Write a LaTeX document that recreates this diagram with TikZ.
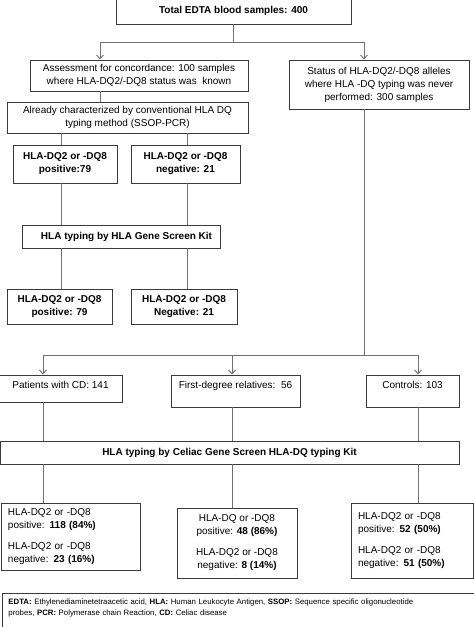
\documentclass[tikz,border=0pt]{standalone}
\usepackage{fontspec}
\setmainfont{Liberation Sans}
\usetikzlibrary{arrows.meta}
\definecolor{boxc}{HTML}{3A3A3A}
\definecolor{linec}{HTML}{707070}
\begin{document}
\begin{tikzpicture}[x=1pt,y=-1pt,
  box/.style={draw=boxc, line width=0.9pt, inner sep=0pt, align=center,
    font=\fontsize{10}{13}\selectfont, text=black},
  bbox/.style={box, font=\fontsize{10}{13}\selectfont\bfseries},
  conn/.style={draw=linec, line width=0.9pt},
  arr/.style={conn, -{Straight Barb[length=4pt,width=7pt]}}]
\useasboundingbox (0,0) rectangle (474,627);

% top part
\node[bbox, minimum width=235, minimum height=27] (top) at (233.5,10.5) {Total EDTA blood samples: 400};
\node[box, minimum width=218, minimum height=31] (assess) at (139,75.5)
  {Assessment for concordance: 100 samples\\ where HLA-DQ2/-DQ8 status was\ \ known};
\node[box, minimum width=180, minimum height=49] (status) at (379,84.5)
  {Status of HLA-DQ2/-DQ8 alleles\\ where HLA -DQ typing was never\\ performed: 300 samples};
\node[box, minimum width=241, minimum height=31] (already) at (127.5,117.5)
  {Already characterized by conventional HLA DQ\\ typing method (SSOP-PCR)};
\node[bbox, minimum width=104, minimum height=38] (pos1) at (65,164)
  {HLA-DQ2 or -DQ8\\ positive:79};
\node[bbox, minimum width=109, minimum height=38] (neg1) at (185.5,164)
  {HLA-DQ2 or -DQ8\\ negative: 21};
\node[bbox, minimum width=198, minimum height=23] (gene) at (121,236.5)
  {\hspace*{11pt}HLA typing by HLA Gene Screen Kit};
\node[bbox, minimum width=105, minimum height=35] (pos2) at (59.5,306.5)
  {HLA-DQ2 or -DQ8\\ positive: 79};
\node[bbox, minimum width=106, minimum height=35] (neg2) at (184,306.5)
  {HLA-DQ2 or -DQ8\\ Negative: 21};

% lower part
\node[box, minimum width=123, minimum height=27, text height=7.2pt, text depth=7pt] (patients) at (60.5,388.5)
  {Patients with CD: 141};
\node[box, minimum width=129, minimum height=32, text height=7.2pt, text depth=12pt] (fdr) at (235.5,391)
  {First-degree relatives:\ \ 56};
\node[box, minimum width=93, minimum height=32, text height=7.2pt, text depth=12pt] (controls) at (412.5,391)
  {Controls: 103};
\node[bbox, minimum width=459, minimum height=23] (celiac) at (229.5,452.5)
  {HLA typing by Celiac Gene Screen HLA-DQ typing Kit};
\node[box, minimum width=139, minimum height=67, inner xsep=7pt, text width=125pt, align=left] (res1) at (70.5,536.5)
  {HLA-DQ2 or -DQ8\\ positive: \textbf{118 (84\%)}\\[8pt] HLA-DQ2 or -DQ8\\ negative: \textbf{23 (16\%)}};
\node[box, minimum width=120, minimum height=70] (res2) at (237,543)
  {HLA-DQ or -DQ8\\ positive: \textbf{48 (86\%)}\\[8pt] HLA-DQ2 or -DQ8\\ negative: \textbf{8 (14\%)}};
\node[box, minimum width=122, minimum height=75, inner xsep=7pt, text width=108pt, align=left] (res3) at (412,540.5)
  {HLA-DQ2 or -DQ8\\ positive: \textbf{52 (50\%)}\\[8pt] HLA-DQ2 or -DQ8\\ negative: \textbf{51 (50\%)}};
\node[box, anchor=north west, inner xsep=6pt, inner ysep=5pt, text width=464pt, align=left,
  font=\fontsize{7.8}{11}\selectfont, text height=6pt, text depth=22pt] (foot) at (2,593)
  {\textbf{EDTA:} Ethylenediaminetetraacetic acid, \textbf{HLA:} Human Leukocyte Antigen, \textbf{SSOP:} Sequence specific oligonucleotide\\ probes, \textbf{PCR:} Polymerase chain Reaction, \textbf{CD:} Celiac disease};

% column coordinates
\coordinate (c43) at (43,0);
\coordinate (c61) at (61,0);
\coordinate (c100) at (100,0);
\coordinate (c187) at (187,0);
\coordinate (c232) at (232,0);
\coordinate (c364) at (364,0);
\coordinate (c418) at (418,0);
\coordinate (j1) at (233.5,42);
\coordinate (j2) at (364,355);

% connectors
\draw[conn] (top.south) -- (j1);
\draw[arr] (j1) -| (assess.north -| c100);
\draw[arr] (j1) -| (status.north -| c364);
\draw[conn] (assess.south -| c100) -- (already.north -| c100);
\draw[conn] (already.south -| c61) -- (pos1.north -| c61);
\draw[conn] (already.south -| c187) -- (neg1.north -| c187);
\draw[conn] (pos1.south -| c61) -- (gene.north -| c61);
\draw[conn] (neg1.south -| c187) -- (gene.north -| c187);
\draw[conn] (gene.south -| c61) -- (pos2.north -| c61);
\draw[conn] (gene.south -| c187) -- (neg2.north -| c187);
\draw[conn] (status.south -| c364) -- (j2);
\draw[arr] (j2) -| (patients.north -| c43);
\draw[arr] (j2) -| (controls.north -| c418);
\draw[arr] (j2 -| c232) -- (fdr.north -| c232);
\draw[conn] (patients.south -| c43) -- (celiac.north -| c43);
\draw[conn] (fdr.south -| c232) -- (celiac.north -| c232);
\draw[conn] (controls.south -| c418) -- (celiac.north -| c418);
\draw[conn] (celiac.south -| c43) -- (res1.north -| c43);
\draw[conn] (celiac.south -| c232) -- (res2.north -| c232);
\draw[conn] (celiac.south -| c418) -- (res3.north -| c418);
\end{tikzpicture}
\end{document}
